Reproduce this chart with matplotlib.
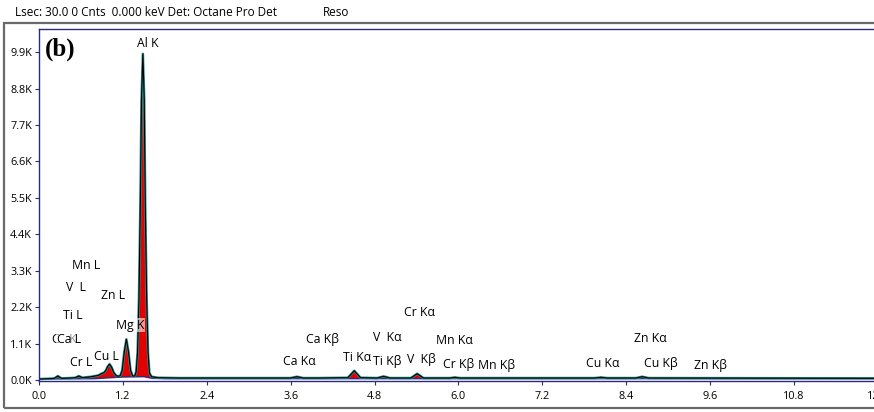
import numpy as np
import matplotlib
matplotlib.use("Agg")
import matplotlib.pyplot as plt
from matplotlib.patches import Rectangle

plt.rcParams['font.family'] = ['Open Sans', 'DejaVu Sans']

# EDS spectrum, energy in keV and counts in thousands
energy_kev = [0.00, 0.15, 0.22, 0.27, 0.32, 0.45, 0.52, 0.57, 0.62, 0.75,
              0.85, 0.90, 0.93, 0.96, 0.98, 1.01, 1.04, 1.07, 1.11, 1.16,
              1.19, 1.22, 1.25, 1.28, 1.31, 1.34, 1.37, 1.39, 1.41, 1.43,
              1.45, 1.466, 1.486, 1.506, 1.52, 1.54, 1.56, 1.58, 1.61, 1.70,
              2.0, 3.0, 3.60, 3.69, 3.78, 4.0, 4.42, 4.51, 4.60, 4.84,
              4.93, 5.02, 5.32, 5.41, 5.50, 5.88, 5.95, 6.02, 7.95, 8.04,
              8.13, 8.54, 8.63, 8.72, 12.6]
counts_k = [0.03, 0.04, 0.05, 0.12, 0.05, 0.06, 0.07, 0.12, 0.07, 0.10,
            0.14, 0.20, 0.22, 0.30, 0.40, 0.48, 0.38, 0.22, 0.12, 0.12,
            0.29, 0.85, 1.23, 0.85, 0.29, 0.12, 0.12, 0.25, 0.83, 2.46,
            5.35, 8.44, 9.85, 8.44, 5.35, 2.46, 0.83, 0.21, 0.10, 0.07,
            0.06, 0.06, 0.06, 0.10, 0.06, 0.06, 0.07, 0.28, 0.07, 0.06,
            0.11, 0.06, 0.06, 0.19, 0.06, 0.06, 0.08, 0.06, 0.06, 0.08,
            0.06, 0.06, 0.10, 0.06, 0.05]

# fitted background under the peaks
bg_kev = [0.0, 0.80, 0.95, 1.20, 1.50, 1.62, 1.80, 12.6]
bg_k = [0.03, 0.04, 0.06, 0.09, 0.10, 0.05, 0.04, 0.04]

# peak labels: text, energy (keV), height (K)
peak_labels = [
    ("Al K", 1.56, 10.15), ("Mn L", 0.67, 3.45), ("V  L", 0.53, 2.78),
    ("Zn L", 1.06, 2.54), ("Ti L", 0.49, 1.96), ("C   K", 0.37, 1.23),
    ("Ca L", 0.43, 1.21), ("Mg K", 1.30, 1.66), ("Cr L", 0.60, 0.52),
    ("Cu L", 0.97, 0.70), ("Ca Kα", 3.73, 0.56), ("Ca Kβ", 4.05, 1.21),
    ("Ti Kα", 4.55, 0.69), ("Ti Kβ", 4.98, 0.57), ("V  Kα", 4.99, 1.27),
    ("V  Kβ", 5.47, 0.63), ("Cr Kα", 5.45, 2.05), ("Mn Kα", 5.94, 1.18),
    ("Cr Kβ", 6.00, 0.48), ("Mn Kβ", 6.55, 0.45), ("Cu Kα", 8.07, 0.51),
    ("Zn Kα", 8.74, 1.24), ("Cu Kβ", 8.89, 0.51), ("Zn Kβ", 9.61, 0.45),
]
backed = {"Ca L", "Mg K"}

yticks = [i * 1.1 for i in range(10)]
xticks = [i * 1.2 for i in range(11)]

navy = "#2b2b7e"

fig = plt.figure(figsize=(8.74, 4.12), dpi=100)
fig.patches.append(Rectangle((4 / 874, 1 - 408 / 412), 1.0, (408 - 23) / 412,
                             transform=fig.transFigure, fill=False,
                             edgecolor="#6a6a6a", lw=1.6))
fig.text(15 / 874, 1 - 12 / 412, "Lsec: 30.0 0 Cnts  0.000 keV Det: Octane Pro Det",
         fontsize=8.5, va="center", ha="left")
fig.text(323 / 874, 1 - 12 / 412, "Reso", fontsize=8.5, va="center", ha="left")

ax = fig.add_axes([39 / 874, 1 - 381 / 412, 12.6 * 69.9 / 874, (381 - 29) / 412])

e = np.array(energy_kev)
c = np.array(counts_k)
bg = np.interp(e, bg_kev, bg_k)
ax.fill_between(e, c, bg, where=c > bg, color="#e50000", lw=0, interpolate=True)
ax.plot(bg_kev, bg_k, color=navy, lw=1.0)
ax.plot(e, c, color="#2f8f8f", lw=1.8, solid_joinstyle="round")
ax.plot(e, c, color="black", lw=0.8, solid_joinstyle="round")

for text, x, y in peak_labels:
    kw = {}
    if text in backed:
        kw["bbox"] = dict(facecolor="white", alpha=0.6, edgecolor="none", pad=0.5)
    ax.text(x, y, text, fontsize=8.8, ha="center", va="center", **kw)

ax.text(0.007, 0.975, "(b)", transform=ax.transAxes, fontsize=18,
        fontweight="bold", family="Liberation Serif", va="top", ha="left")

ax.set_xlim(0, 12.6)
ax.set_ylim(-0.03, 10.6)
ax.set_xticks(xticks)
ax.set_xticklabels([f"{v:.1f}" for v in xticks])
ax.set_yticks(yticks)
ax.set_yticklabels([f"{v:.1f}K" for v in yticks])
ax.tick_params(axis="both", length=3, width=0.8, color=navy, labelsize=7.8, pad=2)
ax.tick_params(axis="x", pad=4)
for s in ax.spines.values():
    s.set_color(navy)
    s.set_linewidth(1.0)

fig.savefig("out.png", dpi=100)
